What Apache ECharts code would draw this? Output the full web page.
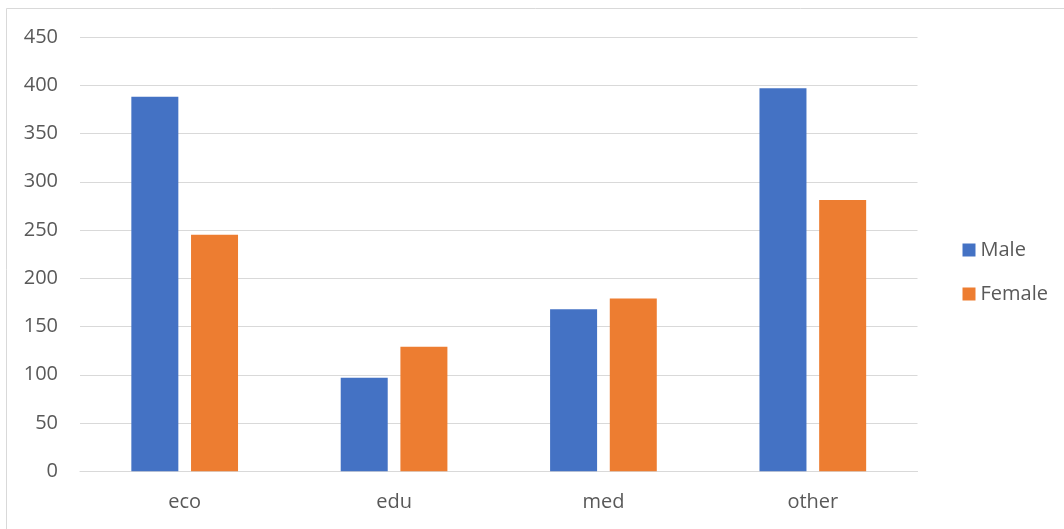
<!DOCTYPE html>
<html>
<head>
<meta charset="utf-8">
<script src="https://cdn.jsdelivr.net/npm/echarts@6/dist/echarts.min.js"></script>
<style>
  html, body { margin: 0; padding: 0; background: #ffffff; }
  #chart { width: 1064px; height: 529px; }
</style>
</head>
<body>
<div id="chart"></div>
<script>
// Enrolment counts by field and gender
const categories = ['eco', 'edu', 'med', 'other'];
const maleValues = [388, 97, 168, 397];
const femaleValues = [245, 129, 179, 281];
const yTicks = { min: 0, max: 450, interval: 50 };

const textColor = '#595959';
const lineColor = '#d9d9d9';
const fontFamily = '"Open Sans", "Noto Sans", sans-serif';

const chart = echarts.init(document.getElementById('chart'), null, { renderer: 'canvas' });

chart.setOption({
  animation: false,
  backgroundColor: '#ffffff',
  textStyle: { fontFamily: fontFamily },
  graphic: [{
    type: 'rect',
    silent: true,
    shape: { x: 6.5, y: 8.5, width: 1200, height: 700 },
    style: { fill: 'none', stroke: lineColor, lineWidth: 1 }
  }],
  grid: { left: 80, right: 146.5, top: 37, bottom: 57.7, containLabel: false },
  legend: {
    orient: 'vertical',
    left: 957.5,
    top: 235,
    itemWidth: 13,
    itemHeight: 13,
    itemGap: 24,
    icon: 'rect',
    textStyle: { color: textColor, fontSize: 20, lineHeight: 20, fontFamily: fontFamily },
    data: ['Male', 'Female']
  },
  xAxis: {
    type: 'category',
    data: categories,
    axisLine: { show: true, lineStyle: { color: lineColor, width: 1.2 } },
    axisTick: { show: false },
    axisLabel: { color: textColor, fontSize: 20, margin: 21, fontFamily: fontFamily }
  },
  yAxis: {
    type: 'value',
    min: yTicks.min,
    max: yTicks.max,
    interval: yTicks.interval,
    axisLine: { show: false },
    axisTick: { show: false },
    splitLine: { lineStyle: { color: lineColor, width: 1.2 } },
    axisLabel: { color: textColor, fontSize: 20, margin: 22, fontFamily: fontFamily }
  },
  series: [
    {
      name: 'Male',
      type: 'bar',
      data: maleValues,
      barWidth: 47,
      barGap: '27%',
      itemStyle: { color: '#4472c4' }
    },
    {
      name: 'Female',
      type: 'bar',
      data: femaleValues,
      barWidth: 47,
      barGap: '27%',
      itemStyle: { color: '#ed7d31' }
    }
  ]
});
</script>
</body>
</html>
